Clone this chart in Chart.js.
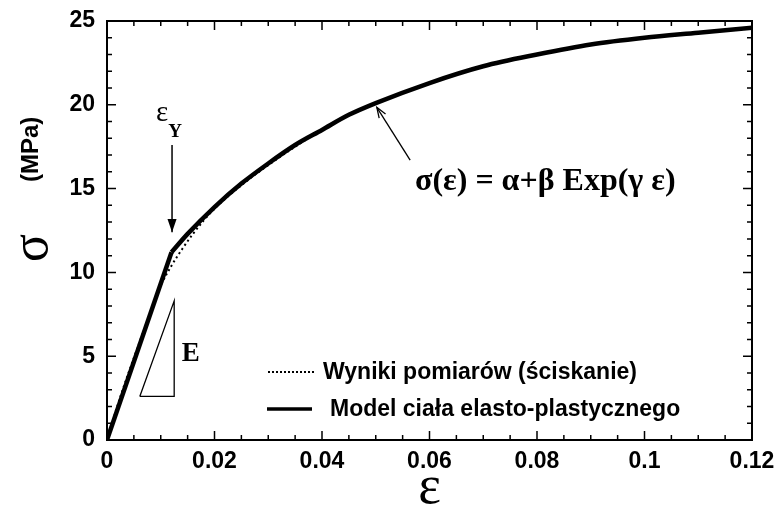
<!DOCTYPE html>
<html lang="pl">
<head>
<meta charset="UTF-8">
<title>Model ciała elasto-plastycznego</title>
<style>
  body { margin: 0; background: #fff; }
</style>
</head>
<body>
<canvas id="chart" width="777" height="510"></canvas>
<script src="https://cdn.jsdelivr.net/npm/chart.js"></script>
<script>
// model: odcinek sprężysty i część wykładnicza
const elasticStrain = [0, 0.012];
const elasticStress = [0, 11.2];
const plasticStrain = [0.012, 0.015, 0.02, 0.025, 0.03, 0.035, 0.04, 0.045, 0.05, 0.06, 0.07, 0.08, 0.09, 0.1, 0.11, 0.12];
const plasticStress = [11.2, 12.3, 13.9, 15.3, 16.5, 17.6, 18.5, 19.4, 20.1, 21.3, 22.3, 23.0, 23.6, 24.0, 24.3, 24.6];

// wyniki pomiarów (ściskanie)
const measStrain = [0, 0.0025, 0.005, 0.0075, 0.01, 0.012, 0.014, 0.016, 0.018, 0.02, 0.025, 0.03, 0.04, 0.05, 0.06, 0.07, 0.08, 0.09, 0.1, 0.11, 0.12];
const measStress = [0, 2.6, 4.9, 7.1, 9.2, 10.4, 11.4, 12.3, 13.1, 13.8, 15.2, 16.4, 18.5, 20.1, 21.3, 22.3, 23.0, 23.6, 24.0, 24.3, 24.6];

// trójkąt modułu E
const triStrain = [0.0061, 0.0125, 0.0125, 0.0061];
const triStress = [2.6, 2.6, 8.3, 2.6];

const legendLabels = ['Wyniki pomiarów (ściskanie)', 'Model ciała elasto-plastycznego'];

const pts = (xs, ys) => xs.map((x, i) => ({ x: x, y: ys[i] }));

function arrow(ctx, x1, y1, x2, y2, len, half, filled) {
    ctx.beginPath();
    ctx.moveTo(x1, y1);
    ctx.lineTo(x2, y2);
    ctx.stroke();
    const a = Math.atan2(y2 - y1, x2 - x1);
    ctx.beginPath();
    ctx.moveTo(x2 - len * Math.cos(a - half), y2 - len * Math.sin(a - half));
    ctx.lineTo(x2, y2);
    ctx.lineTo(x2 - len * Math.cos(a + half), y2 - len * Math.sin(a + half));
    if (filled) { ctx.closePath(); ctx.fill(); } else { ctx.stroke(); }
}

const decor = {
    id: 'decor',
    afterDraw(chart) {
        const { ctx, chartArea: a, scales: { x, y } } = chart;
        ctx.save();
        ctx.strokeStyle = '#000';
        ctx.fillStyle = '#000';

        // ramka
        ctx.lineWidth = 2;
        ctx.strokeRect(a.left, a.top, a.right - a.left, a.bottom - a.top);

        // znaczniki do środka
        ctx.lineWidth = 1.5;
        ctx.beginPath();
        for (let i = 0; i <= 24; i++) {
            const px = x.getPixelForValue(i * 0.005);
            const l = i % 4 === 0 ? 9 : 5;
            ctx.moveTo(px, a.bottom); ctx.lineTo(px, a.bottom - l);
            ctx.moveTo(px, a.top); ctx.lineTo(px, a.top + l);
        }
        for (let i = 0; i <= 25; i++) {
            const py = y.getPixelForValue(i);
            const l = i % 5 === 0 ? 9 : 5;
            ctx.moveTo(a.left, py); ctx.lineTo(a.left + l, py);
            ctx.moveTo(a.right, py); ctx.lineTo(a.right - l, py);
        }
        ctx.stroke();

        // epsilon_Y ze strzałką
        ctx.font = '29px "Liberation Serif"';
        ctx.textBaseline = 'alphabetic';
        ctx.textAlign = 'left';
        ctx.fillText('ε', x.getPixelForValue(0.0091), y.getPixelForValue(19.05));
        ctx.font = 'bold 19px "Liberation Serif"';
        ctx.fillText('Y', x.getPixelForValue(0.0114), y.getPixelForValue(18.1));
        ctx.lineWidth = 1.5;
        arrow(ctx, x.getPixelForValue(0.0121), y.getPixelForValue(17.6),
            x.getPixelForValue(0.0121), y.getPixelForValue(12.4), 14, 0.33, true);

        // E przy trójkącie
        ctx.font = 'bold 27px "Liberation Serif"';
        ctx.textBaseline = 'middle';
        ctx.fillText('E', x.getPixelForValue(0.0139), y.getPixelForValue(5.1));

        // wzór ze strzałką
        ctx.lineWidth = 1.3;
        arrow(ctx, x.getPixelForValue(0.0564), y.getPixelForValue(16.7),
            x.getPixelForValue(0.0502), y.getPixelForValue(19.85), 11, 0.35, false);
        ctx.font = 'bold 32px "Liberation Serif"';
        ctx.textBaseline = 'alphabetic';
        ctx.fillText('σ(ε) = α+β Exp(γ ε)', x.getPixelForValue(0.0573), y.getPixelForValue(14.9));

        // legenda
        ctx.font = 'bold 23px "Liberation Sans"';
        ctx.textBaseline = 'middle';
        const ly1 = a.top + 351, ly2 = a.top + 388;
        ctx.lineWidth = 2;
        ctx.setLineDash([2, 2]);
        ctx.beginPath(); ctx.moveTo(a.left + 161, ly1); ctx.lineTo(a.left + 208, ly1); ctx.stroke();
        ctx.setLineDash([]);
        ctx.lineWidth = 3.5;
        ctx.beginPath(); ctx.moveTo(a.left + 160, ly2); ctx.lineTo(a.left + 205, ly2); ctx.stroke();
        ctx.fillText(legendLabels[0], a.left + 216, ly1 + 1);
        ctx.fillText(legendLabels[1], a.left + 223, ly2 + 1);

        // tytuł osi x
        ctx.font = '54px "Liberation Serif"';
        ctx.textAlign = 'center';
        ctx.textBaseline = 'alphabetic';
        ctx.fillText('ε', (a.left + a.right) / 2, 503);

        // tytuł osi y
        ctx.translate(47, 262);
        ctx.rotate(-Math.PI / 2);
        ctx.textAlign = 'left';
        ctx.font = '52px "Liberation Serif"';
        ctx.fillText('σ', 0, 0);
        ctx.font = 'bold 24px "Liberation Sans"';
        ctx.fillText('(MPa)', 80, -9);
        ctx.restore();
    }
};

const tickFont = { family: '"Liberation Sans", Arial', size: 23, weight: 'bold' };

new Chart(document.getElementById('chart').getContext('2d'), {
    type: 'scatter',
    data: {
        datasets: [
            {
                label: legendLabels[0],
                data: pts(measStrain, measStress),
                showLine: true,
                borderColor: '#000',
                borderWidth: 2,
                borderDash: [2, 3],
                pointRadius: 0,
                cubicInterpolationMode: 'monotone'
            },
            {
                label: legendLabels[1],
                data: pts(elasticStrain, elasticStress),
                showLine: true,
                borderColor: '#000',
                borderWidth: 4.5,
                pointRadius: 0
            },
            {
                label: legendLabels[1],
                data: pts(plasticStrain, plasticStress),
                showLine: true,
                borderColor: '#000',
                borderWidth: 4.5,
                pointRadius: 0,
                cubicInterpolationMode: 'monotone'
            },
            {
                label: 'E',
                data: pts(triStrain, triStress),
                showLine: true,
                borderColor: '#000',
                borderWidth: 1.3,
                pointRadius: 0
            }
        ]
    },
    options: {
        responsive: false,
        animation: false,
        layout: { padding: { top: 21, right: 25, left: 0, bottom: 0 } },
        plugins: { legend: { display: false }, tooltip: { enabled: false } },
        scales: {
            x: {
                type: 'linear',
                min: 0,
                max: 0.12,
                grid: { display: false, drawTicks: false },
                border: { display: false },
                ticks: {
                    stepSize: 0.02,
                    color: '#000',
                    font: tickFont,
                    padding: 8,
                    maxRotation: 0,
                    autoSkip: false,
                    callback: v => String(+v.toFixed(2))
                },
                afterFit: s => { s.height = 70; s.paddingLeft = 0; s.paddingRight = 0; }
            },
            y: {
                type: 'linear',
                min: 0,
                max: 25,
                grid: { display: false, drawTicks: false },
                border: { display: false },
                ticks: {
                    stepSize: 5,
                    color: '#000',
                    font: tickFont,
                    padding: 12
                },
                afterFit: s => { s.width = 107; s.paddingTop = 0; s.paddingBottom = 0; }
            }
        }
    },
    plugins: [decor]
});
</script>
</body>
</html>
